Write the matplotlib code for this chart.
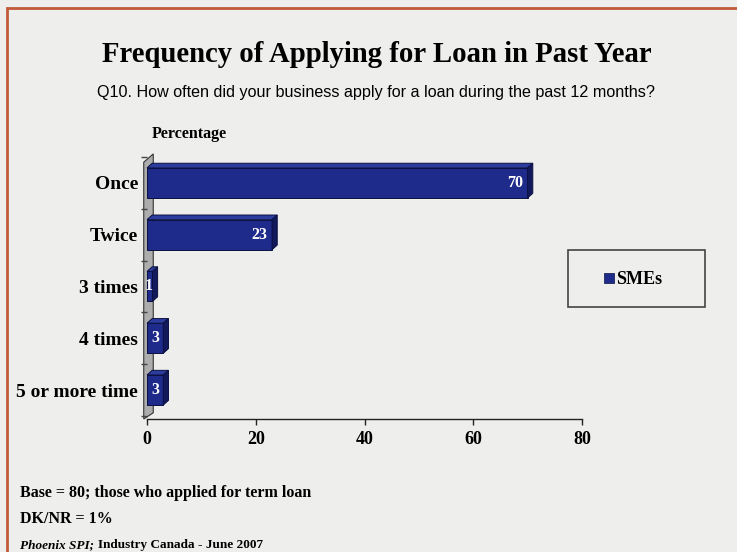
import matplotlib.pyplot as plt
from matplotlib.patches import Polygon, Rectangle

# survey results, percent of SMEs
categories = ['Once', 'Twice', '3 times', '4 times', '5 or more time']
smes = [70, 23, 1, 3, 3]
x_ticks = [0, 20, 40, 60, 80]

W, H = 737, 552
BG = '#eeeeec'
NAVY = '#1e2b8a'
NAVY_TOP = '#2c3c9e'
NAVY_SIDE = '#121a5c'
SERIF = 'Liberation Serif'


def fx(px):
    return px / W


def fy(py):
    return 1 - py / H


fig = plt.figure(figsize=(W / 100, H / 100), dpi=100, facecolor=BG)

# frame round the slide
fig.patches.append(Rectangle((fx(7), fy(H + 10)), fx(W + 10) - fx(7), fy(8) - fy(H + 10),
                             transform=fig.transFigure, fill=False,
                             edgecolor='#c25a3c', linewidth=2))

ax = fig.add_axes([fx(147), fy(419), fx(582) - fx(147), fy(156) - fy(419)])
ax.set_facecolor(BG)
ax.set_xlim(0, 80)
y_bot, y_top = -0.56, 4.52
ax.set_ylim(y_bot, y_top)

ypos = [4 - i for i in range(len(categories))]
bar_h = 0.58
dx, dy = 0.95, 0.09

# back wall
wall = Polygon([(-0.6, y_bot), (dx + 0.2, y_bot + dy + 0.03), (dx + 0.2, 4.47 + dy), (-0.6, 4.40)],
               closed=True, facecolor='#adadad', edgecolor='#333333',
               linewidth=0.8, clip_on=False, zorder=1)
ax.add_patch(wall)

for y, v in zip(ypos, smes):
    y0, y1 = y - bar_h / 2, y + bar_h / 2
    ax.barh(y, v, height=bar_h, color=NAVY, edgecolor='#0a1040',
            linewidth=0.7, zorder=3)
    top = Polygon([(0, y1), (dx, y1 + dy), (v + dx, y1 + dy), (v, y1)],
                  closed=True, facecolor=NAVY_TOP, edgecolor='#0a1040',
                  linewidth=0.7, clip_on=False, zorder=3)
    side = Polygon([(v, y0), (v + dx, y0 + dy), (v + dx, y1 + dy), (v, y1)],
                   closed=True, facecolor=NAVY_SIDE, edgecolor='#0a1040',
                   linewidth=0.7, clip_on=False, zorder=3)
    ax.add_patch(top)
    ax.add_patch(side)
    ax.text(max(v - 0.8, 1.1), y, str(v), ha='right', va='center', color='white',
            fontfamily=SERIF, fontweight='bold', fontsize=11.5, zorder=4)

for s in ['top', 'right', 'left']:
    ax.spines[s].set_visible(False)
ax.spines['bottom'].set_color('#222222')
ax.spines['bottom'].set_linewidth(1.0)

ax.set_xticks(x_ticks)
ax.set_xticklabels([str(t) for t in x_ticks], fontfamily=SERIF,
                   fontweight='bold', fontsize=13)
ax.tick_params(axis='x', length=4, width=1, color='#222222', pad=5)

ax.set_yticks(ypos)
ax.set_yticklabels(categories, fontfamily=SERIF, fontweight='bold', fontsize=14)
ax.set_yticks([-0.5, 0.5, 1.5, 2.5, 3.5, 4.5], minor=True)
ax.tick_params(axis='y', which='major', length=0, pad=6.5)
ax.tick_params(axis='y', which='minor', length=4, width=1, color='#444444')

# titles
fig.text(fx(377), fy(55), 'Frequency of Applying for Loan in Past Year',
         ha='center', va='center', fontfamily=SERIF, fontweight='bold',
         fontsize=20.7)
fig.text(fx(376), fy(92),
         'Q10. How often did your business apply for a loan during the past 12 months?',
         ha='center', va='center', fontfamily='Liberation Sans', fontsize=11.6)
fig.text(fx(152), fy(134), 'Percentage', ha='left', va='center',
         fontfamily=SERIF, fontweight='bold', fontsize=11.5)

# legend box
fig.patches.append(Rectangle((fx(568), fy(307)), fx(705) - fx(568), fy(250) - fy(307),
                             transform=fig.transFigure, facecolor=BG,
                             edgecolor='#444444', linewidth=1.2))
fig.patches.append(Rectangle((fx(604), fy(283)), fx(614) - fx(604), fy(273) - fy(283),
                             transform=fig.transFigure, facecolor=NAVY,
                             edgecolor='#0a1040', linewidth=0.5))
fig.text(fx(616), fy(279), 'SMEs', ha='left', va='center', fontfamily=SERIF,
         fontweight='bold', fontsize=13)

# notes
fig.text(fx(20), fy(493), 'Base = 80; those who applied for term loan',
         ha='left', va='center', fontfamily=SERIF, fontweight='bold', fontsize=11.5)
fig.text(fx(20), fy(519), 'DK/NR = 1%', ha='left', va='center',
         fontfamily=SERIF, fontweight='bold', fontsize=11.5)
src = fig.text(fx(20), fy(545), 'Phoenix SPI;', ha='left', va='center',
               fontfamily=SERIF, fontweight='bold', fontstyle='italic', fontsize=9.5)
fig.canvas.draw()
bb = src.get_window_extent()
fig.text(bb.x1 / W + fx(4), fy(545), 'Industry Canada - June 2007', ha='left',
         va='center', fontfamily=SERIF, fontweight='bold', fontsize=9.5)

fig.savefig('out.png', dpi=100, facecolor=BG)
